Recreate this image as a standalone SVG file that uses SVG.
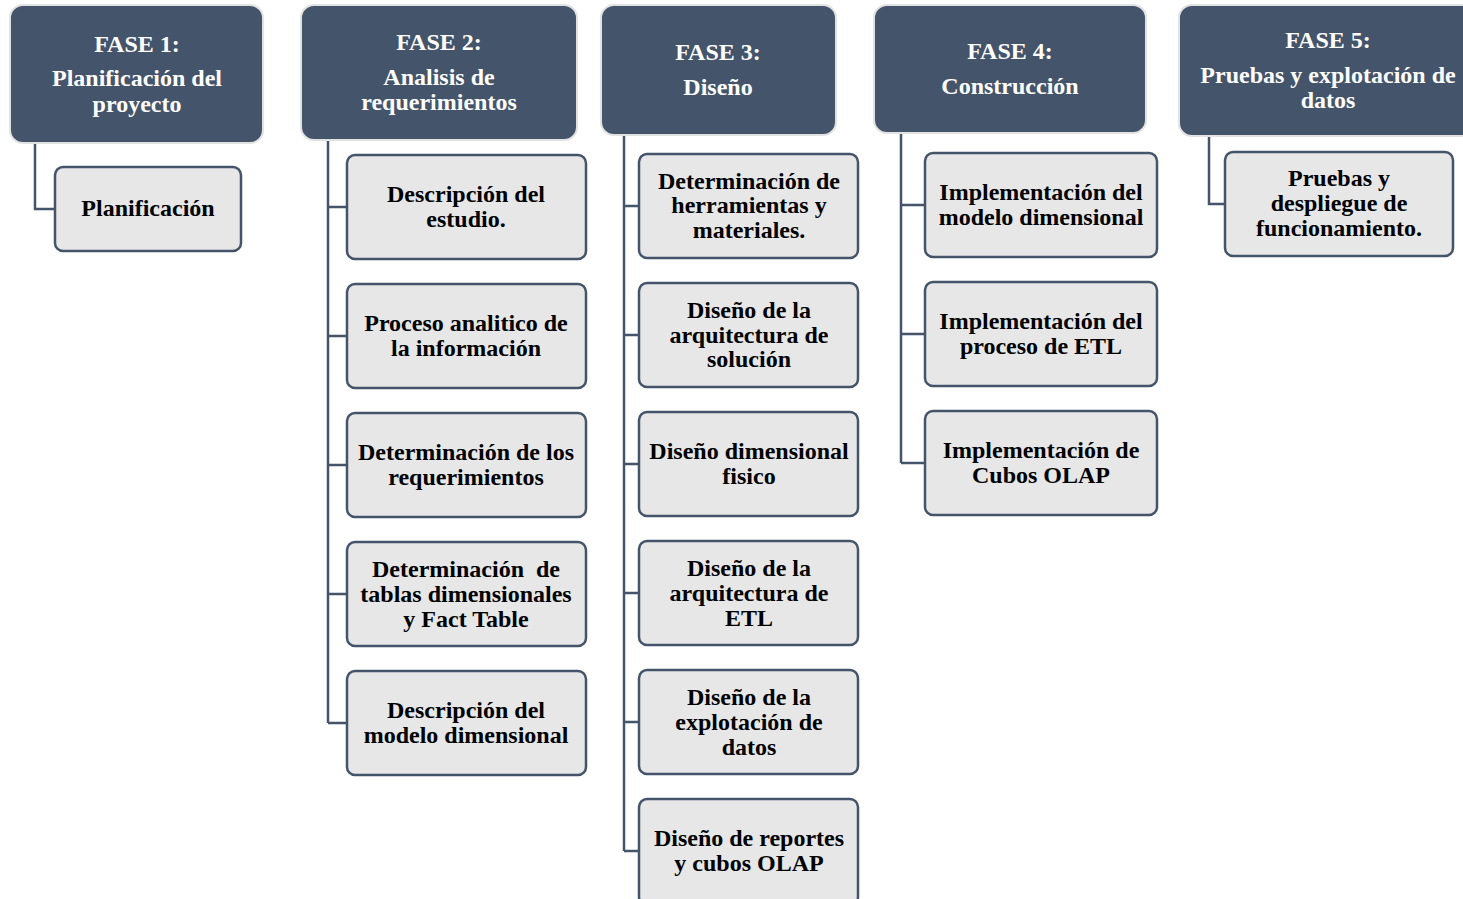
<svg xmlns="http://www.w3.org/2000/svg" width="1463" height="899" viewBox="0 0 1463 899">
  <style>
    .phase rect { fill: #44546a; stroke: #e2e2e2; stroke-width: 2; }
    .phase text { fill: #ffffff; }
    .task rect { fill: #e7e7e7; stroke: #44546a; stroke-width: 2.5; }
    .task text { fill: #000000; }
    text { font-family: "Liberation Serif", "Times New Roman", serif; font-weight: bold; font-size: 24px; text-anchor: middle; }
    .links path { fill: none; stroke: #44546a; stroke-width: 2.5; }
  </style>
  <rect width="1463" height="899" fill="#ffffff"/>

  <!-- connectors -->
  <g class="links">
    <path d="M35 143 V209 H55"/>
    <path d="M328 140 V723 M328 207 H347 M328 336 H347 M328 465 H347 M328 594 H347 M328 723 H347"/>
    <path d="M624 135 V851 M624 206 H639 M624 335 H639 M624 464 H639 M624 593 H639 M624 722 H639 M624 851 H639"/>
    <path d="M901 133 V463 M901 205 H925 M901 334 H925 M901 463 H925"/>
    <path d="M1209 136 V204 H1225"/>
  </g>

  <!-- phase headers -->
  <g id="fase1" class="phase">
    <rect x="10" y="5" width="253" height="138" rx="13"/>
    <text x="137" y="52">FASE 1:</text>
    <text x="137" y="86">Planificación del</text>
    <text x="137" y="112">proyecto</text>
  </g>
  <g id="fase2" class="phase">
    <rect x="301" y="5" width="276" height="135" rx="13"/>
    <text x="439" y="50">FASE 2:</text>
    <text x="439" y="85">Analisis de</text>
    <text x="439" y="110">requerimientos</text>
  </g>
  <g id="fase3" class="phase">
    <rect x="601" y="5" width="235" height="130" rx="13"/>
    <text x="718" y="60">FASE 3:</text>
    <text x="718" y="95">Diseño</text>
  </g>
  <g id="fase4" class="phase">
    <rect x="874" y="5" width="272" height="128" rx="13"/>
    <text x="1010" y="59">FASE 4:</text>
    <text x="1010" y="94">Construcción</text>
  </g>
  <g id="fase5" class="phase">
    <rect x="1179" y="5" width="300" height="131" rx="13"/>
    <text x="1328" y="48">FASE 5:</text>
    <text x="1328" y="83">Pruebas y explotación de</text>
    <text x="1328" y="108">datos</text>
  </g>

  <!-- fase 1 tasks -->
  <g id="planificacion" class="task">
    <rect x="55" y="167" width="186" height="84" rx="8"/>
    <text x="148" y="216">Planificación</text>
  </g>

  <!-- fase 2 tasks -->
  <g id="descripcion-estudio" class="task">
    <rect x="347" y="155" width="239" height="104" rx="8"/>
    <text x="466" y="202">Descripción del</text>
    <text x="466" y="227">estudio.</text>
  </g>
  <g id="proceso-analitico" class="task">
    <rect x="347" y="284" width="239" height="104" rx="8"/>
    <text x="466" y="331">Proceso analitico de</text>
    <text x="466" y="356">la información</text>
  </g>
  <g id="determinacion-requerimientos" class="task">
    <rect x="347" y="413" width="239" height="104" rx="8"/>
    <text x="466" y="460">Determinación de los</text>
    <text x="466" y="485">requerimientos</text>
  </g>
  <g id="determinacion-tablas" class="task">
    <rect x="347" y="542" width="239" height="104" rx="8"/>
    <text x="466" y="577" xml:space="preserve">Determinación  de</text>
    <text x="466" y="602">tablas dimensionales</text>
    <text x="466" y="627">y Fact Table</text>
  </g>
  <g id="descripcion-modelo" class="task">
    <rect x="347" y="671" width="239" height="104" rx="8"/>
    <text x="466" y="718">Descripción del</text>
    <text x="466" y="743">modelo dimensional</text>
  </g>

  <!-- fase 3 tasks -->
  <g id="herramientas" class="task">
    <rect x="639" y="154" width="219" height="104" rx="8"/>
    <text x="749" y="189">Determinación de</text>
    <text x="749" y="213">herramientas y</text>
    <text x="749" y="238">materiales.</text>
  </g>
  <g id="arquitectura-solucion" class="task">
    <rect x="639" y="283" width="219" height="104" rx="8"/>
    <text x="749" y="318">Diseño de la</text>
    <text x="749" y="343">arquitectura de</text>
    <text x="749" y="367">solución</text>
  </g>
  <g id="dimensional-fisico" class="task">
    <rect x="639" y="412" width="219" height="104" rx="8"/>
    <text x="749" y="459">Diseño dimensional</text>
    <text x="749" y="484">fisico</text>
  </g>
  <g id="arquitectura-etl" class="task">
    <rect x="639" y="541" width="219" height="104" rx="8"/>
    <text x="749" y="576">Diseño de la</text>
    <text x="749" y="601">arquitectura de</text>
    <text x="749" y="626">ETL</text>
  </g>
  <g id="explotacion" class="task">
    <rect x="639" y="670" width="219" height="104" rx="8"/>
    <text x="749" y="705">Diseño de la</text>
    <text x="749" y="730">explotación de</text>
    <text x="749" y="755">datos</text>
  </g>
  <g id="reportes" class="task">
    <rect x="639" y="799" width="219" height="106" rx="8"/>
    <text x="749" y="846">Diseño de reportes</text>
    <text x="749" y="871">y cubos OLAP</text>
  </g>

  <!-- fase 4 tasks -->
  <g id="impl-modelo" class="task">
    <rect x="925" y="153" width="232" height="104" rx="8"/>
    <text x="1041" y="200">Implementación del</text>
    <text x="1041" y="225">modelo dimensional</text>
  </g>
  <g id="impl-etl" class="task">
    <rect x="925" y="282" width="232" height="104" rx="8"/>
    <text x="1041" y="329">Implementación del</text>
    <text x="1041" y="354">proceso de ETL</text>
  </g>
  <g id="impl-olap" class="task">
    <rect x="925" y="411" width="232" height="104" rx="8"/>
    <text x="1041" y="458">Implementación de</text>
    <text x="1041" y="483">Cubos OLAP</text>
  </g>

  <!-- fase 5 tasks -->
  <g id="pruebas" class="task">
    <rect x="1225" y="152" width="228" height="104" rx="8"/>
    <text x="1339" y="186">Pruebas y</text>
    <text x="1339" y="211">despliegue de</text>
    <text x="1339" y="236">funcionamiento.</text>
  </g>
</svg>
